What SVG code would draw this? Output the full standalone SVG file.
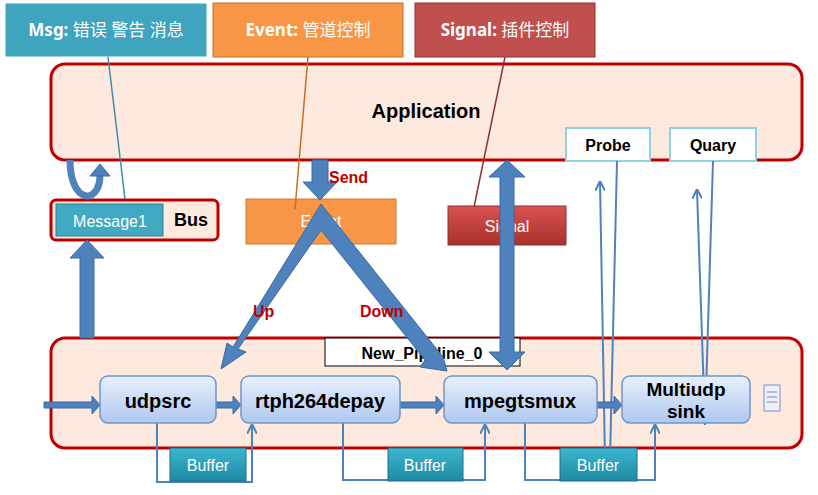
<svg xmlns="http://www.w3.org/2000/svg" width="818" height="495" viewBox="0 0 818 495">
<defs>
<linearGradient id="gE" x1="0" y1="0" x2="0" y2="1"><stop offset="0" stop-color="#e8f0fc"/><stop offset="1" stop-color="#aec8ef"/></linearGradient>
<linearGradient id="gB" x1="0" y1="0" x2="0" y2="1"><stop offset="0" stop-color="#3cb6cf"/><stop offset="1" stop-color="#1e8aa3"/></linearGradient>
<linearGradient id="gS" x1="0" y1="0" x2="0" y2="1"><stop offset="0" stop-color="#d9534f"/><stop offset="1" stop-color="#a8302c"/></linearGradient>
<marker id="ah" viewBox="0 0 10 10" refX="9" refY="5" markerWidth="5" markerHeight="5" orient="auto"><path d="M0,0 L10,5 L0,10" fill="none" stroke="#4f81bd" stroke-width="2"/></marker>
</defs>
<style>
.t{font-family:"Liberation Sans",Arial,sans-serif}
.h{font-family:"Noto Sans","Noto Sans CJK SC",sans-serif}
.big{fill:#4f81bd;stroke:#3a6aa3;stroke-width:1}
.thin{fill:none;stroke:#4f81bd;stroke-width:2}
.el{fill:url(#gE);stroke:#6f95c8;stroke-width:1.5}
.buf{fill:url(#gB);stroke:#1a6f86;stroke-width:1}
.red{fill:#c00000;font-weight:bold;font-size:16px}
</style>
<rect width="818" height="495" fill="#fff"/>
<g id="msg"><rect x="5" y="3" width="202" height="54" fill="#3fa5bf" stroke="#fff"/><text x="106" y="36" text-anchor="middle" fill="#fff" font-size="17" class="h"><tspan font-weight="bold">Msg:</tspan> 错误 警告 消息</text></g>
<g id="eventtop"><rect x="213" y="3" width="190" height="54" fill="#f79646" stroke="#c46f25"/><text x="308" y="36" text-anchor="middle" fill="#fff" font-size="17" class="h"><tspan font-weight="bold">Event:</tspan> 管道控制</text></g>
<g id="signaltop"><rect x="415" y="3" width="180" height="54" fill="#c0504d" stroke="#8c3330"/><text x="505" y="36" text-anchor="middle" fill="#fff" font-size="17" class="h"><tspan font-weight="bold">Signal:</tspan> 插件控制</text></g>
<g id="application"><rect x="51" y="64" width="751" height="96" rx="14" fill="#fde9de" stroke="#c00000" stroke-width="3"/><text x="426" y="118" text-anchor="middle" font-size="20" font-weight="bold" class="t">Application</text></g>
<g id="probe"><rect x="566" y="128" width="84" height="33" fill="#fff" stroke="#8fd3e0" stroke-width="2"/><text x="608" y="151" text-anchor="middle" font-size="16" font-weight="bold" class="t">Probe</text></g>
<g id="quary"><rect x="670" y="128" width="86" height="33" fill="#fff" stroke="#8fd3e0" stroke-width="2"/><text x="713" y="151" text-anchor="middle" font-size="16" font-weight="bold" class="t">Quary</text></g>
<g id="bus"><rect x="51" y="200" width="167" height="40" rx="5" fill="#fde9de" stroke="#c00000" stroke-width="3"/><rect x="56" y="204" width="107" height="32" fill="#41a9c2" stroke="#2a7f93"/><text x="110" y="227" text-anchor="middle" fill="#fff" font-size="16" class="t">Message1</text><text x="191" y="226" text-anchor="middle" font-size="18" font-weight="bold" class="t">Bus</text></g>
<g id="event"><rect x="246" y="199" width="150" height="45" fill="#f79646" stroke="#d07a30"/><text x="321" y="227" text-anchor="middle" fill="#fff" font-size="16" class="t">Event</text></g>
<g id="signal"><rect x="448" y="206" width="118" height="39" fill="url(#gS)" stroke="#8c3330"/><text x="507" y="232" text-anchor="middle" fill="#fff" font-size="16" class="t">Signal</text></g>
<g id="pipeline"><rect x="51" y="338" width="751" height="110" rx="14" fill="#fde9de" stroke="#c00000" stroke-width="3"/><rect x="325" y="338" width="195" height="28" fill="#fff" stroke="#000"/><text x="422" y="359" text-anchor="middle" font-size="16" font-weight="bold" class="t">New_Pipeline_0</text></g>
<g id="connectors">
<path class="big" d="M80,338 V258 H70 L87,240 L104,258 H94 V338 Z"/>
<path d="M70,160 C70,205 100,205 100,175" fill="none" stroke="#4f81bd" stroke-width="7"/>
<path class="big" d="M90,176 L100,164 L110,176 Z"/>
<path class="big" d="M312,160 V182 H303 L320,200 L337,182 H328 V160 Z"/>
<path class="big" d="M500,177 H489 L507,160 L525,177 H514 V352 H525 L507,370 L489,352 H500 Z"/>
<path class="big" d="M321,204 L443,357 L447,371 L420,367 L425,360 L321,230 L238,349 L246,352 L221,369 L227,343 L233,347 Z"/>
<text x="253" y="317" class="red t">Up</text>
<text x="360" y="317" class="red t">Down</text>
<text x="329" y="183" class="red t">Send</text>
<line x1="125" y1="199" x2="108" y2="57" stroke="#3c8fa6" stroke-width="1.5"/>
<line x1="295" y1="209" x2="308" y2="57" stroke="#c46f25" stroke-width="1.5"/>
<line x1="474" y1="207" x2="505" y2="57" stroke="#8c3330" stroke-width="1.5"/>
<line x1="617" y1="161" x2="610" y2="460" stroke="#4f81bd" stroke-width="2"/>
<path class="thin" d="M605,460 L600,182" marker-end="url(#ah)"/>
<path class="thin" d="M713,161 L705,425 L697,190" marker-end="url(#ah)"/>
<path class="big" d="M44,402 H92 V396 L100,405 L92,414 V408 H44 Z"/>
<path class="big" d="M216,402 H233 V396 L241,405 L233,414 V408 H216 Z"/>
<path class="big" d="M400,402 H436 V396 L444,405 L436,414 V408 H400 Z"/>
<path class="big" d="M597,402 H614 V396 L622,405 L614,414 V408 H597 Z"/>
<path class="thin" d="M157,423 V482 H252 V425" marker-end="url(#ah)"/>
<path class="thin" d="M343,423 V480 H485 V425" marker-end="url(#ah)"/>
<path class="thin" d="M525,423 V480 H655 V425" marker-end="url(#ah)"/>
</g>
<g id="udpsrc"><rect class="el" x="100" y="376" width="116" height="47" rx="8"/><text x="158" y="408" text-anchor="middle" font-size="20" font-weight="bold" class="t">udpsrc</text></g>
<g id="rtph264depay"><rect class="el" x="241" y="376" width="159" height="47" rx="8"/><text x="320" y="408" text-anchor="middle" font-size="20" font-weight="bold" class="t">rtph264depay</text></g>
<g id="mpegtsmux"><rect class="el" x="444" y="376" width="153" height="47" rx="8"/><text x="520" y="408" text-anchor="middle" font-size="20" font-weight="bold" class="t">mpegtsmux</text></g>
<g id="multiudpsink"><rect class="el" x="622" y="376" width="128" height="47" rx="8"/><text x="686" y="396" text-anchor="middle" font-size="19" font-weight="bold" class="t">Multiudp</text><text x="686" y="418" text-anchor="middle" font-size="19" font-weight="bold" class="t">sink</text></g>
<g id="note"><rect x="764" y="385" width="16" height="26" fill="#eef" stroke="#6f95c8"/><path d="M767,392 H777 M767,397 H777 M767,402 H777" stroke="#888"/></g>
<g id="buffer1"><rect class="buf" x="170" y="448" width="76" height="33"/><text x="208" y="471" text-anchor="middle" fill="#fff" font-size="16" class="t">Buffer</text></g>
<g id="buffer2"><rect class="buf" x="388" y="448" width="75" height="33"/><text x="425" y="471" text-anchor="middle" fill="#fff" font-size="16" class="t">Buffer</text></g>
<g id="buffer3"><rect class="buf" x="560" y="448" width="77" height="33"/><text x="598" y="471" text-anchor="middle" fill="#fff" font-size="16" class="t">Buffer</text></g>
</svg>
